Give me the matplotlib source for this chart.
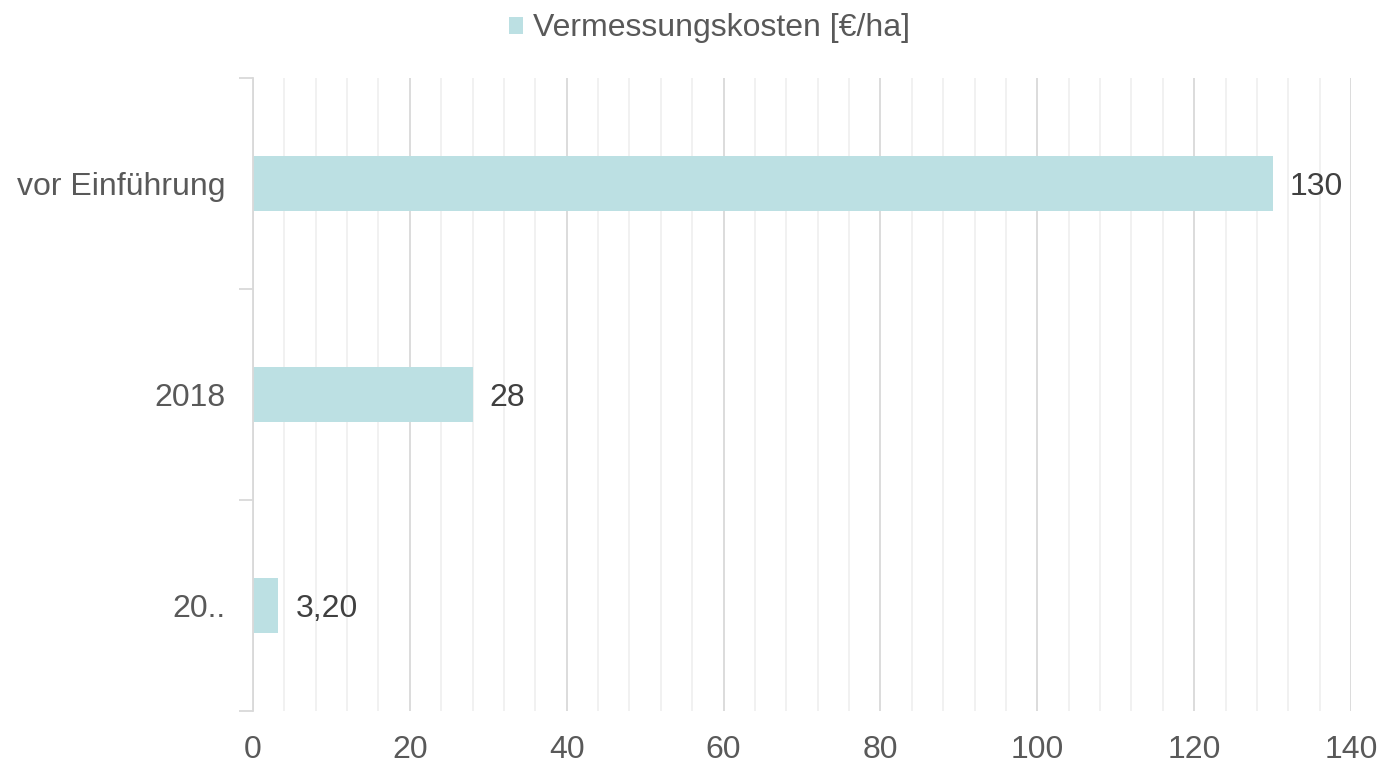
import numpy as np
import matplotlib.pyplot as plt
from matplotlib.ticker import MultipleLocator, FixedLocator, NullFormatter

# Daten
kategorien = ["vor Einführung", "2018", "20.."]
kosten = [130, 28, 3.2]
beschriftung = ["130", "28", "3,20"]
serie = "Vermessungskosten [€/ha]"

plt.rcParams['font.family'] = ['Liberation Sans', 'DejaVu Sans']

fig = plt.figure(figsize=(13.83, 7.64), dpi=100)
ax = fig.add_axes([0.1829, 0.0694, 0.794, 0.8285])

y = np.arange(len(kategorien))
bars = ax.barh(y, kosten, height=0.26, color='#bce0e3', label=serie, zorder=3)

ax.set_xlim(0, 140)
ax.set_ylim(len(kategorien) - 0.5, -0.5)

ax.xaxis.set_major_locator(MultipleLocator(20))
ax.xaxis.set_minor_locator(MultipleLocator(4))
ax.grid(True, which='major', axis='x', color='#d9d9d9', linewidth=1.3, zorder=0)
ax.grid(True, which='minor', axis='x', color='#f0f0f0', linewidth=1.3, zorder=0)

ax.set_yticks(y)
ax.set_yticklabels(kategorien)
ax.yaxis.set_minor_locator(FixedLocator(np.arange(-0.5, len(kategorien), 1.0)))
ax.yaxis.set_minor_formatter(NullFormatter())
ax.tick_params(axis='y', which='major', length=0, pad=20, labelsize=23, labelcolor='#595959')
ax.tick_params(axis='y', which='minor', length=10, color='#d9d9d9', width=1.3)
ax.tick_params(axis='x', which='both', length=0, pad=17, labelsize=23, labelcolor='#595959')

for s in ['top', 'right', 'bottom']:
    ax.spines[s].set_visible(False)
ax.spines['left'].set_color('#d9d9d9')
ax.spines['left'].set_linewidth(1.3)
ax.spines['left'].set_zorder(4)

for b, txt in zip(bars, beschriftung):
    ax.text(b.get_width() + 2.2, b.get_y() + b.get_height() / 2 + 0.015, txt,
            va='center', ha='left', fontsize=23, color='#404040')

fig.legend(loc='upper center', bbox_to_anchor=(0.513, 1.02), frameon=False,
           fontsize=23, labelcolor='#595959', handlelength=0.45, handleheight=0.45,
           handletextpad=0.3)

fig.savefig('out.png', dpi=100)
